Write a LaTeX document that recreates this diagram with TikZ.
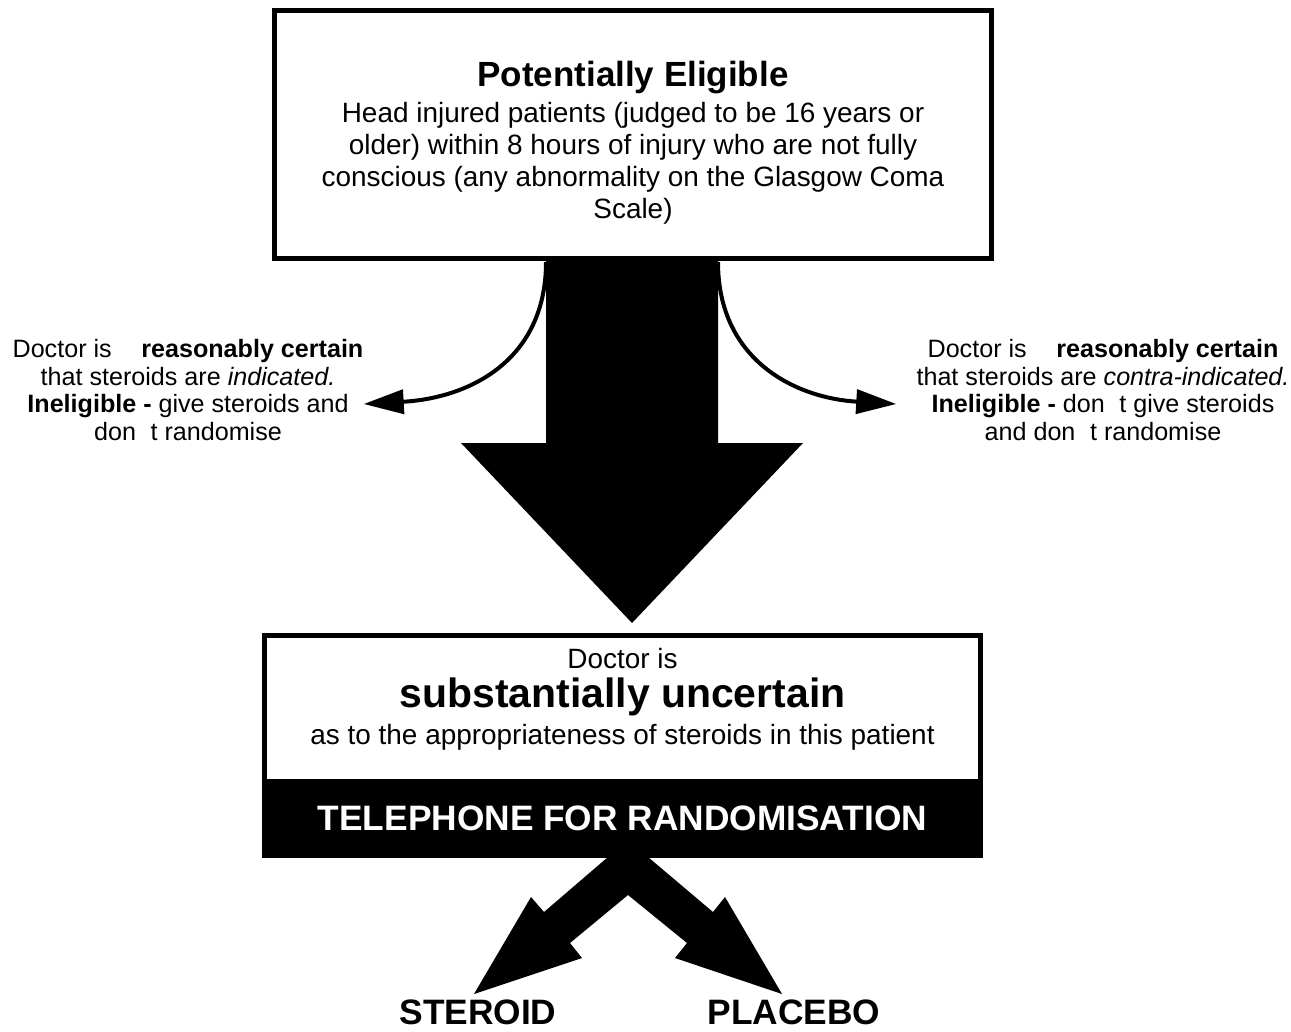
\documentclass[tikz,border=0pt]{standalone}
\usepackage{fontspec}
\setmainfont{Liberation Sans}
\usetikzlibrary{arrows.meta,calc}

\tikzset{
  thickbox/.style={draw, line width=0.1cm, fill=white, inner sep=0pt},
  bodytext/.style={align=center, inner sep=0pt, font=\fontsize{15.9}{18.2}\selectfont},
  sidetext/.style={align=center, inner sep=0pt, font=\fontsize{14.3}{15.9}\selectfont},
  bigtext/.style={inner sep=0pt, font=\fontsize{20.1}{22}\selectfont\bfseries},
  bendarrow/.style={line width=0.08cm, -{Triangle[length=0.8cm,width=0.48cm]}}
}
\newcommand{\gapdon}{don\hspace{0.58em}t}

\begin{document}
\begin{tikzpicture}[x=0.02cm,y=-0.02cm]
\useasboundingbox (0,0) rectangle (1291,1031);

\node[thickbox, minimum width=14.34cm, minimum height=4.96cm] (eligible) at (633,134.5) {};
\node[bodytext] (eligibletext) at (633,143) {{\fontsize{19.9}{22}\selectfont\bfseries Potentially Eligible}\\[2.3pt]
  Head injured patients (judged to be 16 years or\\
  older) within 8 hours of injury who are not fully\\
  conscious (any abnormality on the Glasgow Coma\\
  Scale)};

\fill (546,259) -- (546,443) -- (461,443) -- (632,623) -- (803,443) -- (718,443) -- (718,259) -- cycle;
\coordinate (shaftleft) at (546,262);
\coordinate (shaftright) at (718,262);

\node[sidetext] (indicated) at (188,390) {Doctor is\hspace{0.9em} \textbf{reasonably certain}\\
  that steroids are \textit{indicated.}\\
  \textbf{Ineligible -} give steroids and\\
  \gapdon{} randomise};
\node[sidetext] (contra) at (1103,390) {Doctor is\hspace{0.9em} \textbf{reasonably certain}\\
  that steroids are \textit{contra-indicated.}\\
  \textbf{Ineligible -} \gapdon{} give steroids\\
  and \gapdon{} randomise};

\draw[bendarrow] (shaftleft) .. controls (546,360) and (470,398) .. ($(indicated.east)+(0,14)$);
\draw[bendarrow] (shaftright) .. controls (718,360) and (795,398) .. ($(contra.west)+(-20,14)$);

\node[thickbox, minimum width=14.32cm, minimum height=2.93cm] (uncertain) at (622.5,708.75) {};
\node[bodytext] (uncertaintext) at (622.5,699) {Doctor is\\[4.5pt]
  {\fontsize{23.3}{25}\selectfont\bfseries substantially uncertain}\\[2.5pt]
  as to the appropriateness of steroids in this patient};
\node[bigtext, fill=black, text=white, minimum width=14.42cm, minimum height=1.58cm] (telephone) at (622.5,818.5) {TELEPHONE FOR RANDOMISATION};

\fill (608,857) -- (544,912) -- (531,897) -- (474,994) -- (582,958) -- (570,943) -- (628,895)
  -- (687,943) -- (675,958) -- (782,994) -- (725,897) -- (713,912) -- (648,857) -- cycle;

\node[bigtext] (steroid) at (478,1012) {STEROID};
\node[bigtext] (placebo) at (794,1012) {PLACEBO};
\end{tikzpicture}
\end{document}
